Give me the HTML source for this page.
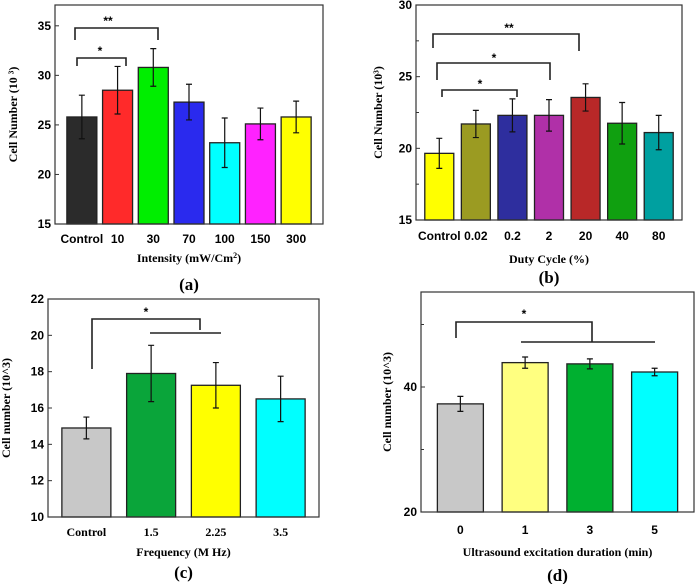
<!DOCTYPE html>
<html><head><meta charset="utf-8"><style>
body{margin:0;background:#fff}
svg{display:block}
.tk{font:bold 12px "Liberation Sans",sans-serif}
.tt{font:bold 12px "Liberation Serif",serif}
.pl{font:bold 17px "Liberation Serif",serif}
</style></head><body>
<svg id="fig" width="697" height="584" xmlns="http://www.w3.org/2000/svg"></svg>
<script>
const aCats=["Control","10","30","70","100","150","300"];
const aVals=[25.8,28.5,30.8,27.3,23.2,25.1,25.8];
const aErrs=[2.2,2.4,1.9,1.8,2.5,1.6,1.6];
const aTicks=[15,20,25,30,35];
const bCats=["Control","0.02","0.2","2","20","40","80"];
const bVals=[19.65,21.7,22.3,22.3,23.55,21.75,21.1];
const bErrs=[1.05,0.95,1.15,1.1,0.95,1.45,1.2];
const bTicks=[15,20,25,30];
const cCats=["Control","1.5","2.25","3.5"];
const cVals=[14.9,17.9,17.25,16.5];
const cErrs=[0.6,1.55,1.25,1.25];
const cTicks=[10,12,14,16,18,20,22];
const dCats=["0","1","3","5"];
const dVals=[37.3,43.9,43.7,42.4];
const dErrs=[1.2,0.9,0.8,0.6];
const dTicks=[20,40];

const NS="http://www.w3.org/2000/svg";
const fig=document.getElementById('fig');
function el(t,a,p){const e=document.createElementNS(NS,t);for(const k in a)e.setAttribute(k,a[k]);(p||fig).appendChild(e);return e;}
function txt(s,a,p){const e=el('text',a,p);e.textContent=s;return e;}

function panel(cfg){
  const g=el('g',{});
  
  
  const {L,R,T,B,ymin,ymax}=cfg;
  const y=v=>B-(v-ymin)/(ymax-ymin)*(B-T);
  const n=cfg.cats.length, step=(R-L-cfg.pad*2)/n;
  const x=i=>L+cfg.pad+step*(i+0.5);
  cfg.vals.forEach((v,i)=>{
    const r=el('rect',{x:x(i)-cfg.bw/2,y:y(v),width:cfg.bw,height:B-y(v),fill:cfg.colors[i],stroke:'#222','stroke-width':1.3},g);
    
    
    const e=cfg.errs[i],hi=y(v+e),lo=y(v-e);
    const eb=el('path',{d:`M${x(i)},${hi}V${lo}M${x(i)-3},${hi}H${x(i)+3}M${x(i)-3},${lo}H${x(i)+3}`,stroke:'#111','stroke-width':1.2,fill:'none'},g);
    
    
    const t=txt(cfg.cats[i],{x:x(i),y:cfg.tickY,'text-anchor':'middle',class:cfg.xcls||'tk'},g);
    
    
  });
  const fr=el('rect',{x:L,y:T,width:R-L,height:B-T,fill:'none',stroke:'#333','stroke-width':1.2},g);
  
  
  cfg.ticks.forEach(v=>{
    el('line',{x1:L,x2:L+4,y1:y(v),y2:y(v),stroke:'#333'},g);
    const t=txt(v,{x:L-4,y:y(v)+4,'text-anchor':'end',class:'tk'},g);
    
    
  });
  (cfg.minor||[]).forEach(v=>el('line',{x1:L,x2:L+3,y1:y(v),y2:y(v),stroke:'#333'},g));
  const yl=txt(cfg.ylabel,{x:0,y:0,'text-anchor':'middle',class:'tt',transform:`translate(${cfg.ylx},${(T+B)/2}) rotate(-90)`},g);
  
  
  const xl=txt('',{x:(L+R)/2,y:cfg.xlY,'text-anchor':'middle',class:'tt'},g);
  xl.innerHTML=cfg.xlabel;
  
  
  const pl=txt(cfg.letter,{x:(L+R)/2,y:cfg.letY,'text-anchor':'middle',class:'pl'},g);
  
  
  cfg.brackets.forEach(b=>{
    const p=el('path',{d:b.d,stroke:'#222','stroke-width':1.6,fill:'none'},g);
    
    
    const s=txt(b.s,{x:b.x,y:b.y,'text-anchor':'middle',class:'tk'},g);
    
    
  });
}

panel({name:'panel-a',L:55,R:323,T:5,B:224,ymin:15,ymax:37.1,pad:9,bw:30,
 cats:aCats,vals:aVals,errs:aErrs,ticks:aTicks,tickY:243,
 colors:['#2b2b2b','#ff2a2a','#00ee00','#2a2aee','#00ffff','#ff22ff','#ffff00'],
 ylabel:'Cell Number (10 ³)',ylx:17,xlabel:'Intensity (mW/Cm<tspan dy="-4" font-size="8">2</tspan><tspan dy="4">)</tspan>',xlY:262,letter:'(a)',letY:290,
 brackets:[{d:'M75,40V28H158V40',s:'**',x:108,y:25},{d:'M77,66V58H126V66',s:'*',x:100,y:55}]});
panel({name:'panel-b',L:416,R:682,T:5,B:220,ymin:15,ymax:30,pad:5,bw:29,
 cats:bCats,vals:bVals,errs:bErrs,ticks:bTicks,minor:[17.5,22.5,27.5],tickY:240,
 colors:['#ffff00','#9b9b22','#2e2e9e','#b030a8','#b82828','#10a010','#00a0a0'],
 ylabel:'Cell Number (10³)',ylx:382,xlabel:'Duty Cycle (%)',xlY:263,letter:'(b)',letY:283,
 brackets:[{d:'M433,48V34H579V51',s:'**',x:509,y:32},{d:'M437,80V63H550V80',s:'*',x:494,y:62},{d:'M442,97V90H517V97',s:'*',x:480,y:88}]});
panel({name:'panel-c',L:48,R:319,T:299,B:517,ymin:10,ymax:22,pad:6,bw:49,
 cats:cCats,vals:cVals,errs:cErrs,ticks:cTicks,tickY:536,xcls:'tt',
 colors:['#c8c8c8','#0aa53a','#ffff00','#00ffff'],
 ylabel:'Cell number (10^3)',ylx:10,xlabel:'Frequency (M Hz)',xlY:556,letter:'(c)',letY:578,
 brackets:[{d:'M92,369V319H200V330M150,333H221',s:'*',x:146,y:316}]});
panel({name:'panel-d',L:421,R:694,T:292,B:512,ymin:20,ymax:55.2,pad:7,bw:46,
 cats:dCats,vals:dVals,errs:dErrs,ticks:dTicks,minor:[30,50],tickY:534,
 colors:['#c8c8c8','#ffff80','#00b030','#00ffff'],
 ylabel:'Cell number (10^3)',ylx:391,xlabel:'Ultrasound excitation duration (min)',xlY:556,letter:'(d)',letY:581,
 brackets:[{d:'M456,338V322H592V342M521,342H655',s:'*',x:524,y:318}]});
</script>
</body></html>
